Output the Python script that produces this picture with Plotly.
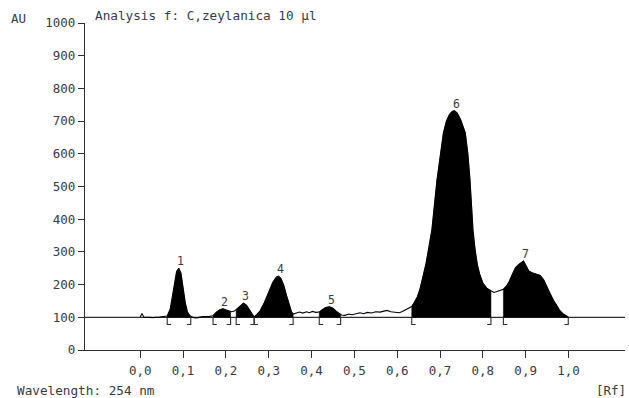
import numpy as np
import plotly.graph_objects as go

# ---------------- data ----------------
rf = [0.000, 0.004, 0.008, 0.015, 0.030, 0.045, 0.055, 0.063, 0.070, 0.075,
      0.080, 0.085, 0.090, 0.095, 0.100, 0.105, 0.110, 0.115, 0.120, 0.128,
      0.135, 0.145, 0.160, 0.170, 0.178, 0.186, 0.193, 0.200, 0.207, 0.213,
      0.220, 0.226, 0.233, 0.241, 0.248, 0.255, 0.262, 0.266, 0.272, 0.280,
      0.290, 0.300, 0.310, 0.318, 0.3225, 0.328, 0.335, 0.342, 0.348, 0.353,
      0.357, 0.365, 0.372, 0.380, 0.388, 0.395, 0.402, 0.410, 0.418, 0.425,
      0.433, 0.442, 0.450, 0.458, 0.465, 0.470, 0.478, 0.487, 0.495, 0.505,
      0.513, 0.522, 0.530, 0.540, 0.550, 0.560, 0.570, 0.576, 0.585, 0.595,
      0.605, 0.612, 0.620, 0.628, 0.634, 0.640, 0.647, 0.653, 0.660, 0.667,
      0.673, 0.681, 0.693, 0.700, 0.708, 0.715, 0.722, 0.728, 0.733, 0.740,
      0.748, 0.759, 0.765, 0.770, 0.777, 0.782, 0.787, 0.793, 0.800, 0.810,
      0.819, 0.826, 0.833, 0.840, 0.848, 0.855, 0.862, 0.869, 0.876, 0.884,
      0.890, 0.895, 0.900, 0.907, 0.915, 0.925, 0.934, 0.942, 0.950, 0.957,
      0.965, 0.972, 0.980, 0.988, 0.995, 1.000]
au = [101, 112, 101, 100, 99, 101, 102, 104, 125, 160,
      205, 240, 250, 235, 190, 145, 117, 106, 102, 98,
      99, 102, 102, 105, 116, 123, 126, 122, 118, 117,
      119, 126, 136, 143, 137, 122, 106, 101, 108, 120,
      145, 177, 208, 223, 226, 220, 198, 165, 135, 117,
      110, 114, 116, 113, 117, 114, 118, 115, 116, 123,
      130, 132, 128, 118, 110, 107, 106, 110, 108, 112,
      114, 111, 115, 113, 117, 116, 119, 121, 117, 116,
      114, 118, 124, 130, 133, 145, 162, 185, 222, 262,
      306, 367, 520, 590, 664, 700, 720, 729, 732, 725,
      705, 664, 600, 520, 367, 306, 262, 230, 205, 188,
      180, 176, 179, 182, 186, 195, 210, 232, 251, 262,
      268, 272, 260, 242, 236, 232, 228, 215, 195, 173,
      152, 135, 120, 110, 104, 100]

peak_ids   = ["1", "2", "3", "4", "5", "6", "7"]
peak_start = [0.063, 0.170, 0.224, 0.266, 0.418, 0.634, 0.848]
peak_end   = [0.118, 0.211, 0.266, 0.357, 0.468, 0.819, 0.9995]

baseline_au = 100
y_ticks = list(range(0, 1001, 100))
x_ticks = [0.0, 0.1, 0.2, 0.3, 0.4, 0.5, 0.6, 0.7, 0.8, 0.9, 1.0]
x_tick_text = ["0,0", "0,1", "0,2", "0,3", "0,4", "0,5", "0,6", "0,7", "0,8", "0,9", "1,0"]

title_text = "Analysis f: C,zeylanica 10 µl"
y_unit = "AU"
x_unit = "[Rf]"
footer_text = "Wavelength: 254 nm"

# ---------------- styling constants ----------------
FONT = "DejaVu Sans Mono"
INK = "#2e2e38"
TXT = "#3a3a44"
L, R, T, B = 85, 4, 23, 48
W, H = 629, 398
PW, PH = W - L - R, H - T - B

def px_x(px):
    return (px - L) / PW

def px_y(py):
    return (H - B - py) / PH

rf_arr = np.array(rf, dtype=float)
au_arr = np.array(au, dtype=float)

fig = go.Figure()

# baseline across the whole plot
fig.add_trace(go.Scatter(x=[-0.2, 1.3], y=[baseline_au, baseline_au], mode="lines",
                         line=dict(color=INK, width=1.3), hoverinfo="skip"))

# filled integrated peaks
for s, e in zip(peak_start, peak_end):
    mask = (rf_arr > s) & (rf_arr < e)
    xs = [s] + list(rf_arr[mask]) + [e]
    ys = [np.interp(s, rf_arr, au_arr)] + list(au_arr[mask]) + [np.interp(e, rf_arr, au_arr)]
    xs = xs + [e, s, s]
    ys = ys + [baseline_au, baseline_au, ys[0]]
    fig.add_trace(go.Scatter(x=xs, y=ys, mode="lines", fill="toself",
                             fillcolor="black", line=dict(color="black", width=0.5),
                             hoverinfo="skip"))

# densitogram curve
fig.add_trace(go.Scatter(x=rf, y=au, mode="lines",
                         line=dict(color="black", width=1.1), hoverinfo="skip"))

# integration brackets
BR_DEPTH = 22
BR_FOOT = 0.009
bx, by = [], []
for s in peak_start:
    bx += [s, s, s + BR_FOOT, None]
    by += [baseline_au, baseline_au - BR_DEPTH, baseline_au - BR_DEPTH, None]
for e in peak_end:
    bx += [e, e, e - BR_FOOT, None]
    by += [baseline_au, baseline_au - BR_DEPTH, baseline_au - BR_DEPTH, None]
fig.add_trace(go.Scatter(x=bx, y=by, mode="lines", line=dict(color=INK, width=1.1),
                         hoverinfo="skip", connectgaps=False))

annotations = []
# peak numbers
for pid, s, e in zip(peak_ids, peak_start, peak_end):
    mask = (rf_arr >= s) & (rf_arr <= e)
    i = np.argmax(au_arr[mask])
    annotations.append(dict(x=rf_arr[mask][i], y=au_arr[mask][i], text=pid,
                            showarrow=False, xanchor="center", yanchor="bottom",
                            xshift=2, yshift=-2,
                            font=dict(family=FONT, size=11.5, color=TXT)))

annotations += [
    dict(xref="paper", yref="paper", x=px_x(9), y=px_y(19), text=y_unit,
         showarrow=False, xanchor="left", yanchor="middle",
         font=dict(family=FONT, size=12.5, color=TXT)),
    dict(xref="paper", yref="paper", x=px_x(93), y=px_y(15), text=title_text,
         showarrow=False, xanchor="left", yanchor="middle",
         font=dict(family=FONT, size=12.7, color=TXT)),
    dict(xref="paper", yref="paper", x=px_x(15), y=px_y(390), text=footer_text,
         showarrow=False, xanchor="left", yanchor="middle",
         font=dict(family=FONT, size=12.7, color=TXT)),
    dict(xref="paper", yref="paper", x=px_x(594), y=px_y(390), text=x_unit,
         showarrow=False, xanchor="left", yanchor="middle",
         font=dict(family=FONT, size=12.5, color=TXT)),
]

fig.update_layout(
    width=W, height=H,
    margin=dict(l=L, r=R, t=T, b=B, pad=0),
    paper_bgcolor="white", plot_bgcolor="white",
    showlegend=False,
    annotations=annotations,
    xaxis=dict(range=[-0.129, 1.132], tickvals=x_ticks, ticktext=x_tick_text,
               showline=True, linecolor=INK, linewidth=1.3, ticks="outside",
               ticklen=7, tickwidth=1.3, tickcolor=INK, showgrid=False, zeroline=False,
               tickfont=dict(family=FONT, size=12.5, color=TXT), ticklabelstandoff=2),
    yaxis=dict(range=[0, 1000], tickvals=y_ticks,
               showline=True, linecolor=INK, linewidth=1.3, ticks="outside",
               ticklen=6, tickwidth=1.3, tickcolor=INK, showgrid=False, zeroline=False,
               tickfont=dict(family=FONT, size=12.5, color=TXT)),
)

fig.write_html("out.html")
